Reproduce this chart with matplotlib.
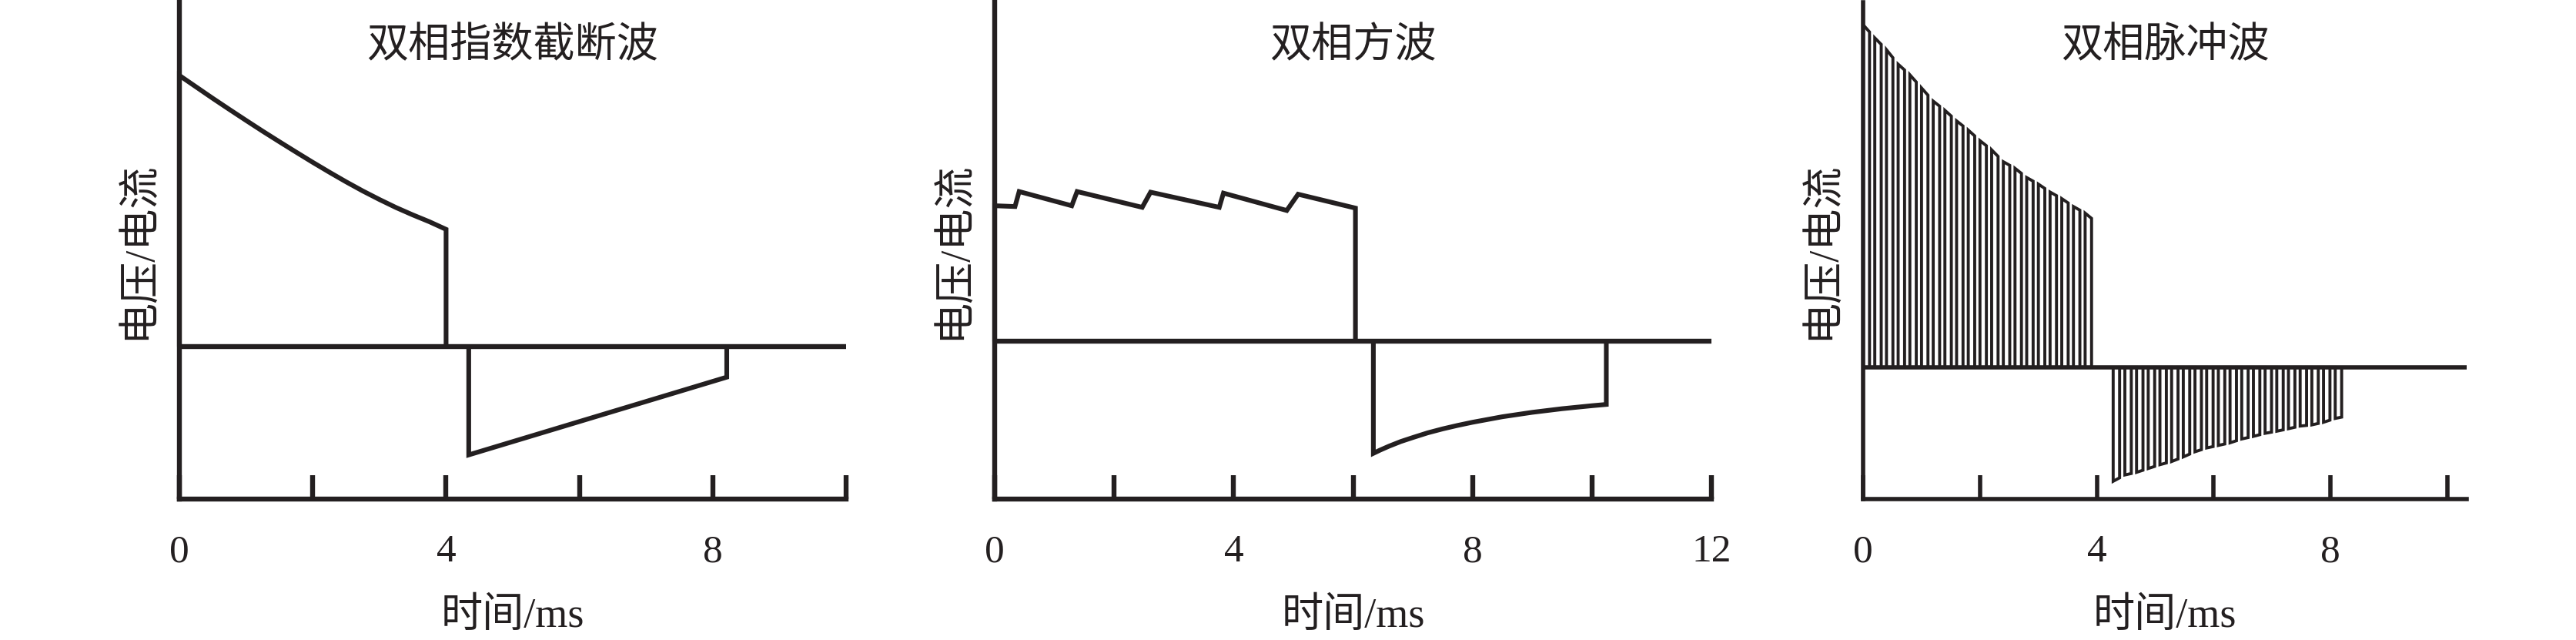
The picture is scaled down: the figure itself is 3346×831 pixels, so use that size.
import numpy as np
import matplotlib
matplotlib.use('Agg')
import matplotlib.pyplot as plt

plt.rcParams['font.family'] = ['Liberation Serif', 'Noto Sans CJK SC']

INK = '#231f20'

titles = ['双相指数截断波', '双相方波', '双相脉冲波']
ylabel_text = '电压/电流'
xlabel_text = '时间/ms'

# ---- panel 1: biphasic truncated exponential ----
exp_pos_t = [0, 0.25, 0.5, 0.75, 1.0, 1.25, 1.5, 1.75, 2.0, 2.25, 2.5, 2.75,
             3.0, 3.25, 3.5, 3.75, 4.0]
exp_pos_v = [1.78, 1.705, 1.63, 1.557, 1.485, 1.414, 1.345, 1.277, 1.21, 1.145,
             1.082, 1.022, 0.966, 0.913, 0.865, 0.82, 0.77]
exp_neg_t = [4.34, 8.21]
exp_neg_v = [-0.71, -0.20]
exp_xlim = (0, 10)
exp_ylim = (-1, 2.26)
exp_ticks = [0, 2, 4, 6, 8, 10]
exp_ticklabels = ['0', '', '4', '', '8', '']

# ---- panel 2: biphasic square wave ----
sq_pos_t = [0, 0.34, 0.41, 1.29, 1.38, 2.47, 2.61, 3.76, 3.83, 4.89, 5.08, 6.04]
sq_pos_v = [0.86, 0.855, 0.95, 0.86, 0.95, 0.85, 0.946, 0.85, 0.94, 0.83, 0.933, 0.845]
sq_neg_t = [6.34, 6.45, 6.6, 6.8, 7.0, 7.25, 7.5, 7.75, 8.0, 8.5, 9.0, 9.5, 10.0, 10.24]
sq_neg_v = [-0.71, -0.69, -0.665, -0.635, -0.61, -0.58, -0.555, -0.533, -0.513,
            -0.478, -0.45, -0.427, -0.408, -0.40]
sq_xlim = (0, 12)
sq_ylim = (-1, 2.15)
sq_ticks = [0, 2, 4, 6, 8, 10, 12]
sq_ticklabels = ['0', '', '4', '', '8', '', '12']

# ---- panel 3: biphasic pulse wave ----
pulse_pos_t = [0.0, 0.2, 0.4, 0.6, 0.8, 1.0, 1.2, 1.4, 1.6, 1.8,
               2.0, 2.2, 2.4, 2.6, 2.8, 3.0, 3.2, 3.4, 3.6, 3.8]
pulse_pos_v = [2.60, 2.50, 2.41, 2.30, 2.22, 2.12, 2.02, 1.95, 1.87, 1.80,
               1.72, 1.65, 1.56, 1.51, 1.44, 1.39, 1.33, 1.28, 1.22, 1.17]
pulse_pos_end = (3.91, 1.13)
pulse_neg_t = [4.28, 4.48, 4.68, 4.88, 5.08, 5.28, 5.48, 5.68, 5.88, 6.08,
               6.28, 6.48, 6.68, 6.88, 7.08, 7.28, 7.48, 7.68, 7.88, 8.08]
pulse_neg_v = [-0.865, -0.817, -0.797, -0.768, -0.739, -0.715, -0.680, -0.641, -0.612, -0.593,
               -0.573, -0.544, -0.524, -0.501, -0.485, -0.466, -0.446, -0.437, -0.417, -0.388]
pulse_neg_end = (8.19, -0.378)
pulse_width = 0.11
pulse_xlim = (0, 10.33)
pulse_ylim = (-1, 2.77)
pulse_ticks = [0, 2, 4, 6, 8, 10]
pulse_ticklabels = ['0', '', '4', '', '8', '']


def pulse_train(starts, heights, end, width):
    env_t = list(starts) + [end[0]]
    env_v = list(heights) + [end[1]]
    xs, ys = [], []
    for t0, h0 in zip(starts, heights):
        t1 = t0 + width
        h1 = float(np.interp(t1, env_t, env_v))
        xs += [t0, t0, t1, t1]
        ys += [0, h0, h1, 0]
    return xs, ys


W, H = 3346, 831
fig = plt.figure(figsize=(W / 100, H / 100), dpi=100)
boxes = [(233, 1099), (1292, 2223), (2420, 3204)]
top_px, bot_px = 3, 648

axes = []
for (l, r) in boxes:
    ax = fig.add_axes([l / W, (H - bot_px) / H, (r - l) / W, (bot_px - top_px) / H])
    axes.append(ax)

line_kw = dict(color=INK, solid_joinstyle='miter', solid_capstyle='butt', clip_on=False)
LW = 4.4

# panel 1
ax = axes[0]
ax.plot([0] + exp_pos_t + [exp_pos_t[-1]], [0] + exp_pos_v + [0], lw=LW, **line_kw)
ax.plot([exp_neg_t[0]] + exp_neg_t + [exp_neg_t[-1]], [0] + exp_neg_v + [0], lw=LW, **line_kw)
ax.set_xlim(*exp_xlim); ax.set_ylim(*exp_ylim)
ax.set_xticks(exp_ticks); ax.set_xticklabels(exp_ticklabels)

# panel 2
ax = axes[1]
ax.plot([0] + sq_pos_t + [sq_pos_t[-1]], [0] + sq_pos_v + [0], lw=LW, **line_kw)
ax.plot([sq_neg_t[0]] + sq_neg_t + [sq_neg_t[-1]], [0] + sq_neg_v + [0], lw=LW, **line_kw)
ax.set_xlim(*sq_xlim); ax.set_ylim(*sq_ylim)
ax.set_xticks(sq_ticks); ax.set_xticklabels(sq_ticklabels)

# panel 3
ax = axes[2]
px, py = pulse_train(pulse_pos_t, pulse_pos_v, pulse_pos_end, pulse_width)
ax.plot(px, py, lw=2.8, **line_kw)
nx, ny = pulse_train(pulse_neg_t, pulse_neg_v, pulse_neg_end, pulse_width)
ax.plot(nx, ny, lw=2.8, **line_kw)
ax.set_xlim(*pulse_xlim); ax.set_ylim(*pulse_ylim)
ax.set_xticks(pulse_ticks); ax.set_xticklabels(pulse_ticklabels)

for i, (ax, (l, r), title) in enumerate(zip(axes, boxes, titles)):
    lw_sp = 4.6 if i < 2 else 4.0
    ax.axhline(0, color=INK, lw=lw_sp, solid_capstyle='butt', zorder=3)
    for s in ('top', 'right'):
        ax.spines[s].set_visible(False)
    for s in ('left', 'bottom'):
        ax.spines[s].set_linewidth(lw_sp)
        ax.spines[s].set_color(INK)
        ax.spines[s].set_capstyle('projecting')
    ax.set_yticks([])
    ax.tick_params(axis='x', direction='in', length=22, width=lw_sp, pad=33,
                   labelsize=37, colors=INK)
    ax.text(0.5, 0.91, title, transform=ax.transAxes, ha='center', va='center',
            fontsize=39, color=INK)
    ax.set_xlabel(xlabel_text, fontsize=39, color=INK)
    ax.xaxis.set_label_coords(0.5, -0.198)
    ax.set_ylabel(ylabel_text, fontsize=39, color=INK)
    ax.yaxis.set_label_coords(-26 / (r - l), 0.5)

fig.savefig('out.png', dpi=100, facecolor='white')
